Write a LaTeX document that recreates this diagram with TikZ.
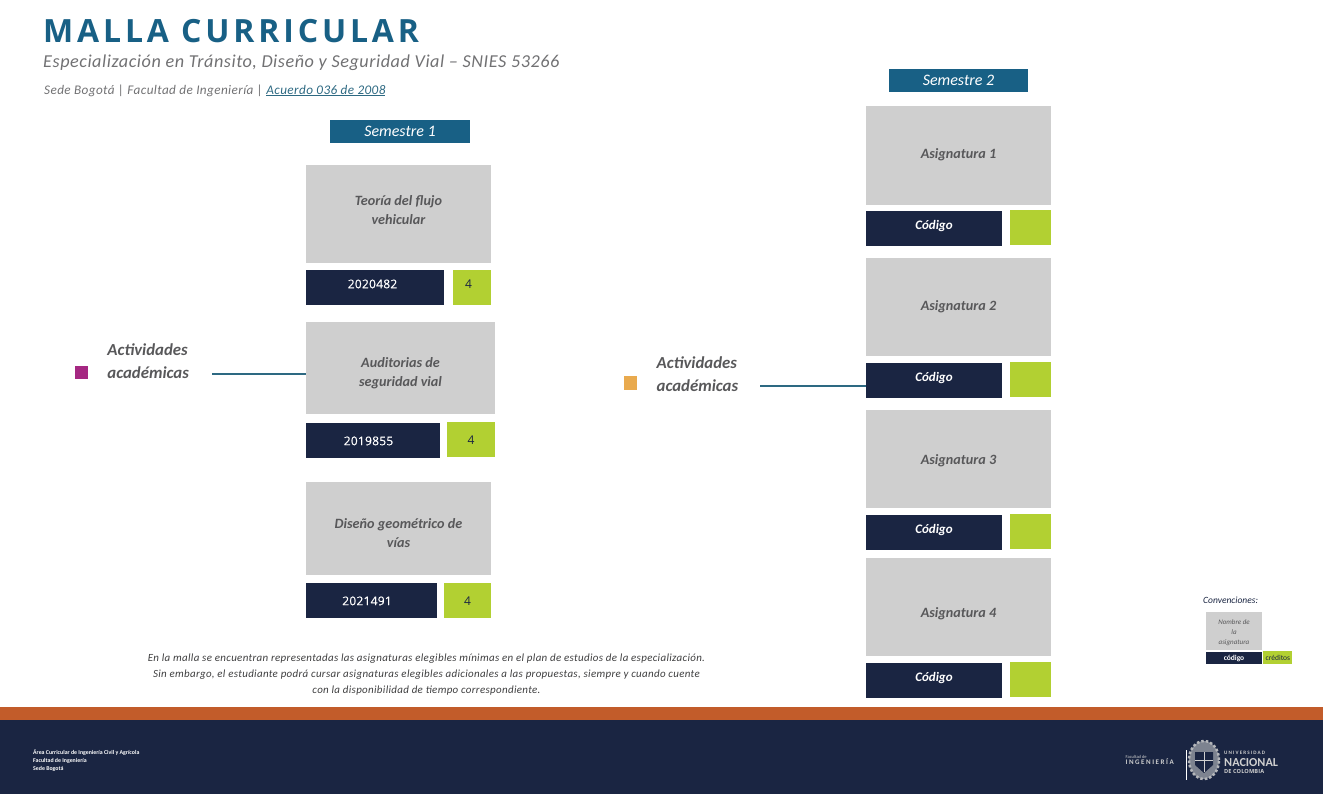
\documentclass[tikz,border=0pt]{standalone}
\usepackage{fontspec}
\setmainfont{Carlito}
\newfontfamily\titlefont[LetterSpace=12]{Open Sans}
\newfontfamily\subfont[LetterSpace=3]{Carlito}
\newfontfamily\widefont[LetterSpace=22]{Carlito}
\newfontfamily\numfont[LetterSpace=2]{Open Sans}
\newfontfamily\codefont[LetterSpace=2,FakeBold=0.4]{Open Sans}
\usetikzlibrary{positioning,arrows.meta,calc}
\definecolor{MallaBlue}{RGB}{24,96,133}
\definecolor{MallaNavy}{RGB}{26,37,66}
\definecolor{MallaGray}{RGB}{207,207,207}
\definecolor{MallaGreen}{RGB}{178,208,50}
\definecolor{MallaRust}{RGB}{194,92,42}
\definecolor{MallaText}{RGB}{88,88,90}
\definecolor{MallaPurple}{RGB}{165,40,130}
\definecolor{MallaGold}{RGB}{233,170,78}
\definecolor{MallaLine}{RGB}{45,105,130}
% nudges for text inside a fixed box
\newcommand{\liftby}[1]{\rule[-#1]{0pt}{#1}}
\newcommand{\dropby}[1]{\rule{0pt}{#1}}
\tikzset{
  headbox/.style={fill=MallaBlue, text=white, inner sep=0pt, minimum height=23pt, font=\fontsize{16}{20}\selectfont\itshape},
  subjbox/.style={fill=MallaGray, text=MallaText, inner sep=0pt, align=center, font=\fontsize{14.2}{19}\selectfont\bfseries\itshape},
  codebox/.style={fill=MallaNavy, text=white, inner sep=0pt, minimum height=35pt, font=\fontsize{12}{16}\selectfont\codefont},
  credbox/.style={fill=MallaGreen, text=MallaNavy, inner sep=0pt, minimum height=35pt, font=\fontsize{12}{16}\selectfont\numfont},
  namebox/.style={codebox, font=\fontsize{13}{16}\selectfont\bfseries\itshape},
  actlabel/.style={text=MallaText, align=left, inner sep=0pt, font=\fontsize{16.8}{23}\selectfont\bfseries\itshape},
  actline/.style={MallaLine, line width=1.6pt},
  plain/.style={inner sep=0pt, anchor=west}
}
\begin{document}
\begin{tikzpicture}[x=1pt, y=-1pt, every node/.style={anchor=center}]
  \useasboundingbox (0,0) rectangle (1323,794);
  % title block
  \node[plain, text=MallaBlue, font=\fontsize{32}{36}\selectfont\bfseries\titlefont] (title) at (43,31) {MALLA CURRICULAR};
  \node[plain, text=MallaText!85, font=\fontsize{18.2}{24}\selectfont\itshape\subfont] (subtitle) at (43,63) {Especialización en Tránsito, Diseño y Seguridad Vial – SNIES 53266};
  \node[plain, text=MallaText!85, font=\fontsize{13.2}{18}\selectfont\itshape\subfont] (sede) at (44,90.5) {Sede Bogotá | Facultad de Ingeniería | \textcolor{MallaLine}{\underline{Acuerdo 036 de 2008}}};
  % semestre 1
  \node[headbox, minimum width=140pt] (sem1) at (400,131.5) {Semestre 1};
  \node[subjbox, minimum width=185pt, minimum height=98pt] (flujo) at (398.5,214) {Teoría del flujo\\vehicular\liftby{7pt}};
  \node[codebox, minimum width=138pt, below=7pt of flujo.south west, anchor=north west] (flujoc) {\liftby{8pt}2020482\kern5pt};
  \node[credbox, minimum width=38pt, below=7pt of flujo.south east, anchor=north east] (flujok) {\liftby{8pt}4\kern7pt};
  \node[subjbox, minimum width=189pt, minimum height=92pt] (audit) at (400.5,368) {\dropby{20pt}Auditorias de\\seguridad vial};
  \node[codebox, minimum width=134pt, below=9pt of audit.south west, anchor=north west] (auditc) {2019855\kern9pt};
  \node[credbox, minimum width=48pt, below=8pt of audit.south east, anchor=north east] (auditk) {4};
  \node[subjbox, minimum width=185pt, minimum height=93pt] (vias) at (398.5,528.5) {\dropby{20pt}Diseño geométrico de\\vías};
  \node[codebox, minimum width=131pt, below=8pt of vias.south west, anchor=north west] (viasc) {2021491\kern9pt};
  \node[credbox, minimum width=47pt, below=8pt of vias.south east, anchor=north east] (viask) {4};
  % semestre 2
  \node[headbox, minimum width=139pt] (sem2) at (958.5,80.5) {Semestre 2};
  \node[subjbox, minimum width=185pt, minimum height=99pt] (asig1) at (958.5,155.5) {Asignatura 1\liftby{4pt}};
  \node[namebox, minimum width=136pt, below=6pt of asig1.south west, anchor=north west] (asig1c) {Código\liftby{7pt}};
  \node[credbox, minimum width=41pt, below=5pt of asig1.south east, anchor=north east] (asig1k) {};
  \node[subjbox, minimum width=185pt, minimum height=98pt] (asig2) at (958.5,307) {Asignatura 2};
  \node[namebox, minimum width=136pt, below=7pt of asig2.south west, anchor=north west] (asig2c) {Código\liftby{7pt}};
  \node[credbox, minimum width=41pt, below=6pt of asig2.south east, anchor=north east] (asig2k) {};
  \node[subjbox, minimum width=185pt, minimum height=98pt] (asig3) at (958.5,459) {\dropby{14pt}Asignatura 3};
  \node[namebox, minimum width=136pt, below=7pt of asig3.south west, anchor=north west] (asig3c) {Código\liftby{7pt}};
  \node[credbox, minimum width=41pt, below=6pt of asig3.south east, anchor=north east] (asig3k) {};
  \node[subjbox, minimum width=185pt, minimum height=98pt] (asig4) at (958.5,607) {\dropby{24pt}Asignatura 4};
  \node[namebox, minimum width=136pt, below=7pt of asig4.south west, anchor=north west] (asig4c) {Código\liftby{7pt}};
  \node[credbox, minimum width=41pt, below=6pt of asig4.south east, anchor=north east] (asig4k) {};
  % actividades
  \node[fill=MallaPurple, minimum size=13pt, inner sep=0pt] (mark1) at (81.5,372.5) {};
  \node[actlabel, right=19pt of mark1, yshift=11pt] (act1) {Actividades\\académicas};
  \coordinate (act1end) at (212,374);
  \draw[actline] (act1end) -- (audit.west |- act1end);
  \node[fill=MallaGold, minimum size=13.5pt, inner sep=0pt] (mark2) at (630.5,383) {};
  \node[actlabel, right=19pt of mark2, yshift=9pt] (act2) {Actividades\\académicas};
  \coordinate (act2end) at (760,386);
  \draw[actline] (act2end) -- (asig2c.west |- act2end);
  % nota
  \node[text=MallaText!70!black, align=center, inner sep=0pt, font=\fontsize{10.95}{16}\selectfont\itshape\subfont] (nota) at (426.5,675) {En la malla se encuentran representadas las asignaturas elegibles mínimas en el plan de estudios de la especialización.\\Sin embargo, el estudiante podrá cursar asignaturas elegibles adicionales a las propuestas, siempre y cuando cuente\\con la disponibilidad de tiempo correspondiente.};
  % convenciones
  \node[plain, text=MallaNavy, font=\fontsize{9.5}{11}\selectfont\itshape] (conv) at (1203,600.5) {Convenciones:};
  \node[subjbox, minimum width=56pt, minimum height=38pt, font=\fontsize{7}{10}\selectfont\itshape] (convs) at (1234,631) {\dropby{9pt}Nombre de\\la\\asignatura};
  \node[codebox, minimum width=56pt, minimum height=12pt, below=2pt of convs.south west, anchor=north west, font=\fontsize{7.5}{9}\selectfont\bfseries] (convc) {código};
  \node[credbox, minimum width=29pt, minimum height=13pt, right=1pt of convc.south east, anchor=south west, font=\fontsize{7.5}{9}\selectfont] (convk) {créditos};
  % footer
  \fill[MallaRust] (0,707) rectangle (1323,720);
  \fill[MallaNavy] (0,720) rectangle (1323,794);
  \node[plain, text=white, align=left, font=\fontsize{5.85}{8.2}\selectfont\bfseries] (area) at (33,760.5) {Área Curricular de Ingeniería Civil y Agrícola\\Facultad de Ingeniería\\Sede Bogotá};
  \node[inner sep=0pt, text=MallaGray, align=left, anchor=east, font=\fontsize{4.5}{6.5}\selectfont] (fac) at (1174,760) {Facultad de\\{\fontsize{7}{8}\selectfont\bfseries\widefont INGENIERÍA}};
  \draw[white, line width=1pt] (1186,750) -- (1186,780);
  % escudo
  \fill[MallaGray!55!MallaNavy] (1204,760) ellipse (15pt and 19pt);
  \draw[MallaGray!85!MallaNavy, line width=2.5pt, dotted] (1204,760) ellipse (15pt and 19pt);
  \fill[MallaNavy] (1195,752) -- (1213,752) -- (1213,765) -- (1204,773) -- (1195,765) -- cycle;
  \draw[MallaGray, line width=1pt] (1204,752) -- (1204,772) (1195,760) -- (1213,760);
  \node[plain, text=MallaGray, font=\fontsize{5.1}{7}\selectfont\bfseries\widefont] (un1) at (1224,753) {UNIVERSIDAD};
  \node[plain, text=MallaGray, font=\fontsize{12.2}{14}\selectfont\bfseries] (un2) at (1224,762.5) {NACIONAL};
  \node[plain, text=MallaGray, font=\fontsize{5.6}{7}\selectfont\bfseries\numfont] (un3) at (1224,771.5) {DE COLOMBIA};
\end{tikzpicture}
\end{document}
